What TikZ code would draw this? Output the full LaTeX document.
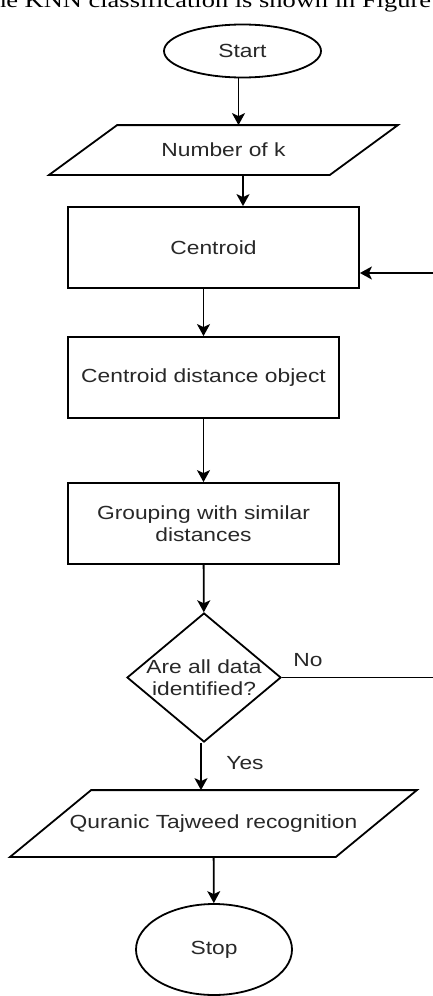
\documentclass[tikz,border=0pt]{standalone}
\usepackage{fontspec}
\setmainfont{Liberation Sans}[FakeStretch=1.2]
\newfontfamily\bodyserif{Liberation Serif}[FakeStretch=1.26]
\usetikzlibrary{shapes.geometric,arrows.meta}
\definecolor{ink}{RGB}{40,40,40}
\begin{document}
\begin{tikzpicture}[x=1pt,y=-1pt,
  line width=1.8pt,
  txt/.style={inner sep=0pt, text=ink, font=\fontsize{19}{22}\selectfont, align=center},
  process/.style={txt, draw=black, fill=white, rectangle, minimum height=81pt},
  terminal/.style={txt, draw=black, fill=white, ellipse, minimum width=157pt},
  decision/.style={draw=black, fill=white, diamond, inner sep=0pt, minimum width=154pt, minimum height=129pt},
  flow/.style={draw=black, -{Stealth[length=12pt,width=13pt,inset=3pt]}},
]
\clip (0,0) rectangle (433,996);

% running text of the page above the chart
\node[inner sep=0pt, anchor=base east, font=\bodyserif\fontsize{21}{24}\selectfont]
  (caption) at (432,7) {the KNN classification is shown in Figure};

% chart nodes
\node[terminal, minimum height=53pt] (start) at (242.5,51) {Start};
\node[txt, minimum width=279pt, minimum height=48pt] (numk) at (223.5,150) {Number of k};
\draw ([xshift=-34pt]numk.south west) -- ([xshift=-34pt]numk.south east)
   -- ([xshift=34pt]numk.north east) -- ([xshift=34pt]numk.north west) -- cycle;
\node[process, minimum width=291pt] (cent) at (213.5,247.5) {Centroid};
\node[process, minimum width=271pt] (cdo) at (203.5,377.5) {Centroid distance object};
\node[process, minimum width=271pt] (grp) at (203.5,523.5) {Grouping with similar\\distances};
\node[decision] (dec) at (204,677.5) {};
\node[txt] (dectext) at (dec) {Are all data\\identified?};
\node[txt, minimum width=324pt, minimum height=65pt] (quran) at (213.5,823.5) {Quranic Tajweed recognition};
\draw ([xshift=-40.5pt]quran.south west) -- ([xshift=-40.5pt]quran.south east)
   -- ([xshift=40.5pt]quran.north east) -- ([xshift=40.5pt]quran.north west) -- cycle;
\node[terminal, minimum height=91pt, minimum width=156pt] (stop) at (214,949.5) {Stop};

% connectors
\draw[flow] ([xshift=-4pt]start.south) -- ([xshift=-4pt]start.south |- numk.north);
\draw[flow] ([xshift=19.5pt]numk.south) -- ([xshift=19.5pt]numk.south |- cent.north);
\draw[flow] (cdo.north |- cent.south) -- (cdo.north);
\draw[flow] (cdo) -- (grp);
\draw[flow] (grp) -- (dec);
\draw[flow] ([xshift=-3pt]dec.south) -- ([xshift=-3pt]dec.south |- quran.north);
\draw[flow] (quran) -- (stop);
\coordinate (loop) at (460,677.5);
\draw[flow] (dec.east) -- (loop) |- ([yshift=-25.5pt]cent.east);

% branch labels
\node[txt] (nolabel) at (308,660) {No};
\node[txt] (yeslabel) at (245,763) {Yes};
\end{tikzpicture}
\end{document}
